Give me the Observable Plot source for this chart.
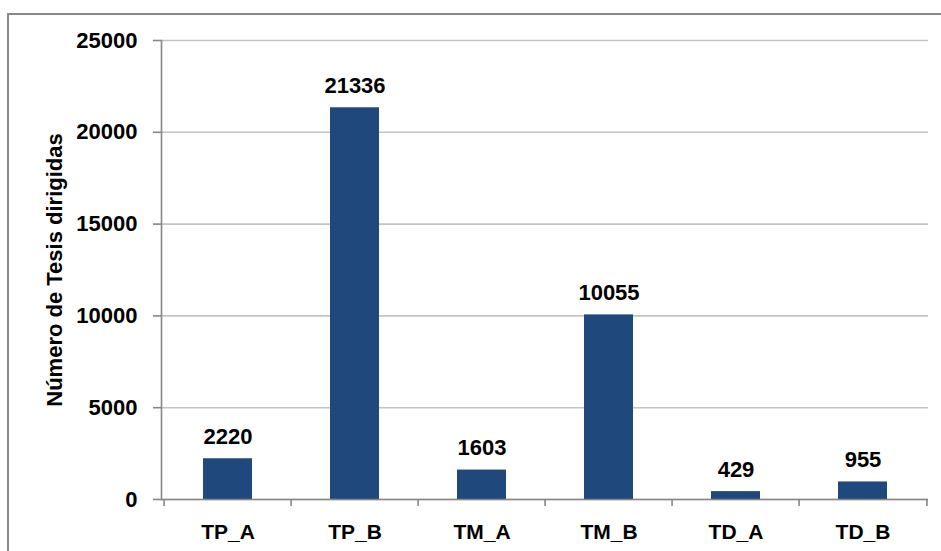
<!DOCTYPE html>
<html>
<head>
<meta charset="utf-8">
<script src="https://cdn.jsdelivr.net/npm/d3@7"></script>
<script src="https://cdn.jsdelivr.net/npm/@observablehq/plot@0.6"></script>
<style>
  html, body { margin: 0; padding: 0; background: #fff; overflow: hidden; }
  #wrap { position: relative; width: 941px; height: 551px; overflow: hidden; }
  #border { position: absolute; left: 7px; top: 13px; width: 1000px; height: 1000px; border: 2px solid #898989; box-sizing: border-box; }
  #chart { position: absolute; left: 0; top: 0; }
</style>
</head>
<body>
<div id="wrap"><div id="border"></div><div id="chart"></div></div>
<script>
const categories = ["TP_A", "TP_B", "TM_A", "TM_B", "TD_A", "TD_B"];
const values = [2220, 21336, 1603, 10055, 429, 955];
const yTicks = [0, 5000, 10000, 15000, 20000, 25000];
const yTitle = "Número de Tesis dirigidas";

const data = categories.map((c, i) => ({cat: c, value: values[i]}));

const W = 941, H = 551;
const mL = 161, mR = 13, mT = 40, mB = 52;
const step = (W - mL - mR) / categories.length;
const font = "'Liberation Sans', Arial, sans-serif";

const chart = Plot.plot({
  width: W,
  height: H,
  marginLeft: mL,
  marginRight: mR,
  marginTop: mT,
  marginBottom: mB,
  style: {fontFamily: font, fontWeight: "bold", color: "#000", background: "transparent"},
  x: {domain: categories, paddingInner: 0.615, paddingOuter: 0.3075, label: null},
  y: {domain: [0, 25000], label: null},
  marks: [
    Plot.gridY(yTicks, {stroke: "#c3c3c3", strokeOpacity: 1, strokeWidth: 1.6}),
    Plot.barY(data, {x: "cat", y: "value", fill: "#1F497D"}),
    Plot.ruleY([0], {stroke: "#868686", strokeWidth: 1.6}),
    Plot.frame({anchor: "left", stroke: "#868686", strokeWidth: 1.6}),
    Plot.ruleX(categories, {x: d => d, y1: 0, y2: 0, insetBottom: -7, dx: -step / 2, stroke: "#868686", strokeWidth: 1.6}),
    Plot.ruleX(categories.slice(-1), {x: d => d, y1: 0, y2: 0, insetBottom: -7, dx: step / 2, stroke: "#868686", strokeWidth: 1.6}),
    Plot.axisY({ticks: yTicks, tickSize: 8, tickPadding: 16, tickFormat: d => String(d), fontSize: 22, stroke: "#868686", strokeWidth: 1.6, label: null}),
    Plot.axisX({tickSize: 0, tickPadding: 25, fontSize: 21, label: null}),
    Plot.text(data, {x: "cat", y: "value", text: d => String(d.value), dy: -15, lineAnchor: "bottom", fontSize: 22, fontWeight: "bold", fill: "#000"}),
    Plot.text([yTitle], {frameAnchor: "left", textAnchor: "middle", rotate: -90, dx: -107, fontSize: 22, fontWeight: "bold", fill: "#000"})
  ]
});
document.getElementById("chart").appendChild(chart);
</script>
</body>
</html>
